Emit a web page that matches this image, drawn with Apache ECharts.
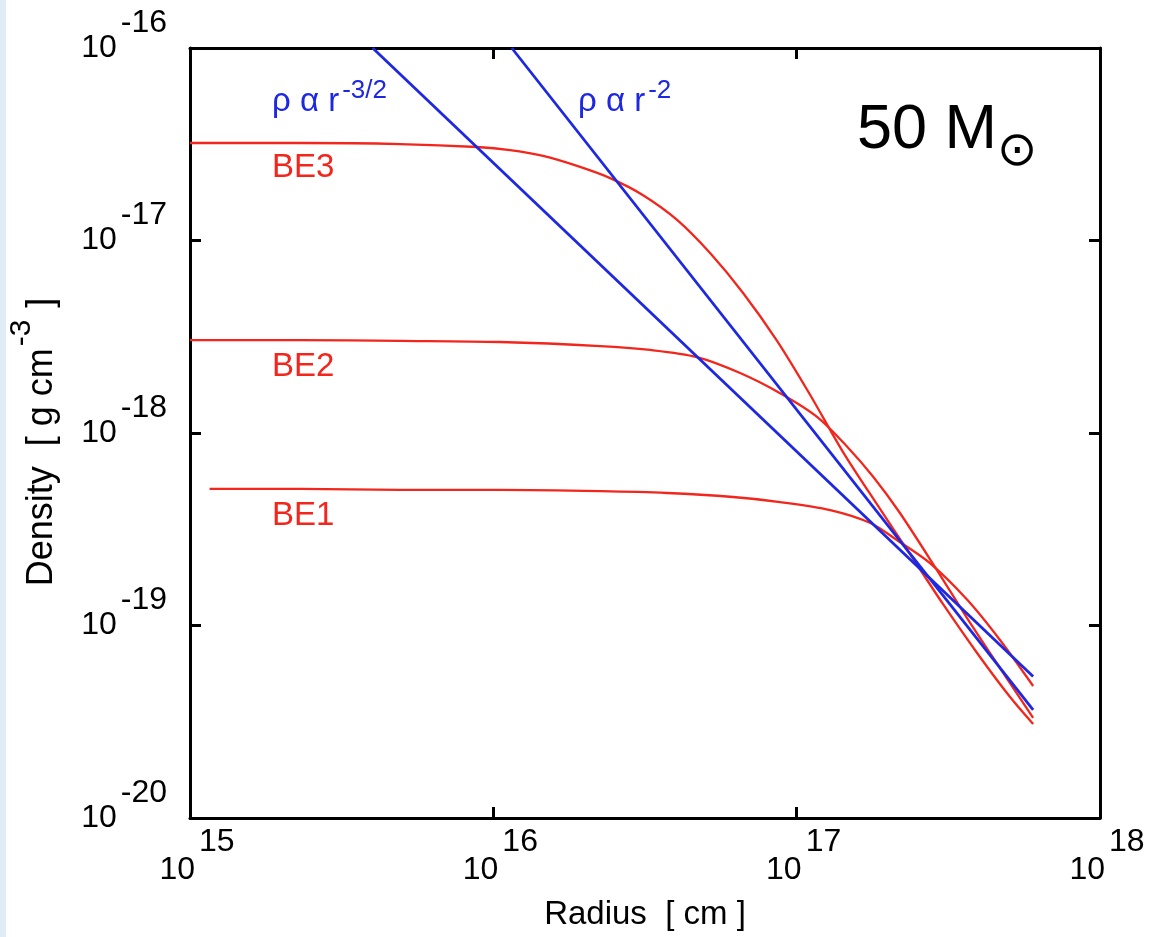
<!DOCTYPE html>
<html>
<head>
<meta charset="utf-8">
<script src="https://cdn.jsdelivr.net/npm/echarts@6/dist/echarts.min.js"></script>
<style>
  html, body { margin: 0; padding: 0; background: #ffffff; }
  #chart { width: 1150px; height: 937px; }
</style>
</head>
<body>
<div id="chart"></div>
<script>
// ---- data (radius [cm], density [g cm^-3]) ----
const be1 = [
  [1.16e15, 5.12e-19], [2.31e15, 5.12e-19], [4.93e15, 5.06e-19], [1.05e16, 5.06e-19],
  [2.25e16, 4.99e-19], [3.74e16, 4.88e-19], [6.17e16, 4.65e-19], [8.82e16, 4.38e-19],
  [1.29e17, 3.98e-19], [1.75e17, 3.41e-19], [2.14e17, 2.78e-19], [2.75e17, 2.11e-19],
  [3.65e17, 1.36e-19], [4.68e17, 8.41e-20], [6.02e17, 4.85e-20]
];
const be2 = [
  [1.00e15, 3.04e-18], [2.31e15, 3.04e-18], [4.93e15, 3.01e-18], [1.05e16, 2.97e-18],
  [2.25e16, 2.83e-18], [3.29e16, 2.70e-18], [4.69e16, 2.48e-18], [6.51e16, 2.05e-18],
  [8.82e16, 1.61e-18], [1.17e17, 1.21e-18], [1.47e17, 8.46e-19], [1.79e17, 5.91e-19],
  [2.19e17, 3.84e-19], [2.90e17, 1.94e-19], [3.65e17, 1.09e-19], [4.68e17, 6.01e-20],
  [6.02e17, 3.31e-20]
];
const be3 = [
  [1.00e15, 3.21e-17], [2.31e15, 3.21e-17], [4.93e15, 3.17e-17], [8.84e15, 3.06e-17],
  [1.135e16, 2.95e-17], [1.459e16, 2.75e-17], [1.888e16, 2.44e-17], [2.426e16, 2.11e-17],
  [3.116e16, 1.72e-17], [4.034e16, 1.28e-17], [5.182e16, 8.61e-18], [6.658e16, 5.34e-18],
  [8.618e16, 3.01e-18], [1.107e17, 1.58e-18], [1.422e17, 7.96e-19], [1.827e17, 4.33e-19],
  [2.365e17, 2.35e-19], [3.039e17, 1.29e-19], [3.933e17, 7.20e-20], [5.053e17, 4.25e-20],
  [6.02e17, 3.08e-20]
];
const powerLaw15 = [[4.0e15, 1.0e-16], [6.02e17, 5.44e-20]];   // rho ~ r^-3/2
const powerLaw2  = [[1.15e16, 1.0e-16], [6.02e17, 3.65e-20]];  // rho ~ r^-2

const xRange = [1e15, 1e18];
const yRange = [1e-20, 1e-16];

const curveLabels = ['BE3', 'BE2', 'BE1'];
const lawLabels = [['ρ α r', '-3/2'], ['ρ α r', '-2']];
const massLabel = ['50 M', '⊙'];
const xName = 'Radius  [ cm ]';
const yName = ['Density  [ g cm', '-3', ' ]'];

const RED = '#f2261c';
const BLUE = '#1e28e0';
const FONT = "'Liberation Sans', Arial, Helvetica, sans-serif";

const chart = echarts.init(document.getElementById('chart'), null, { renderer: 'canvas' });

function expOf(v) { return Math.round(Math.log10(v)); }

const axisLineStyle = { color: '#000', width: 3 };
const tickStyle = { show: true, inside: true, length: 11, lineStyle: { color: '#000', width: 3 } };

const option = {
  animation: false,
  backgroundColor: '#ffffff',
  grid: { left: 190, top: 48, right: 50, bottom: 119, containLabel: false, outerBoundsMode: 'none' },
  xAxis: [
    {
      type: 'log', logBase: 10, min: xRange[0], max: xRange[1], position: 'bottom',
      axisLine: { show: true, onZero: false, lineStyle: axisLineStyle },
      axisTick: tickStyle,
      splitLine: { show: false },
      axisLabel: {
        margin: 8,
        formatter: v => '{b|10}{e|' + expOf(v) + '}',
        rich: {
          b: { fontFamily: FONT, fontSize: 32, color: '#000', verticalAlign: 'bottom', padding: [0, 0, 0, 14] },
          e: { fontFamily: FONT, fontSize: 32, color: '#000', verticalAlign: 'top', padding: [0, 0, 28, 4] }
        }
      },
      name: xName, nameLocation: 'middle', nameGap: 80,
      nameTextStyle: { fontFamily: FONT, fontSize: 33, color: '#000' }
    },
    {
      type: 'log', logBase: 10, min: xRange[0], max: xRange[1], position: 'top',
      axisLine: { show: true, onZero: false, lineStyle: axisLineStyle },
      axisTick: tickStyle, axisLabel: { show: false }, splitLine: { show: false }
    }
  ],
  yAxis: [
    {
      type: 'log', logBase: 10, min: yRange[0], max: yRange[1], position: 'left',
      axisLine: { show: true, onZero: false, lineStyle: axisLineStyle },
      axisTick: tickStyle,
      splitLine: { show: false },
      axisLabel: {
        margin: 23,
        formatter: v => '{b|10}{e|' + expOf(v) + '}',
        rich: {
          b: { fontFamily: FONT, fontSize: 32, color: '#000', verticalAlign: 'middle' },
          e: { fontFamily: FONT, fontSize: 32, color: '#000', verticalAlign: 'top', padding: [0, 0, 50, 4] }
        }
      },
      name: '{n|' + yName[0] + '}{e|' + yName[1] + '}{n|' + yName[2] + '}',
      nameLocation: 'middle', nameGap: 130, nameRotate: 90,
      nameTextStyle: {
        padding: [0, 18, 0, 0],
        rich: {
          n: { fontFamily: FONT, fontSize: 36, color: '#000', verticalAlign: 'bottom' },
          e: { fontFamily: FONT, fontSize: 30, color: '#000', verticalAlign: 'top', padding: [0, 2, 23, 2] }
        }
      }
    },
    {
      type: 'log', logBase: 10, min: yRange[0], max: yRange[1], position: 'right',
      axisLine: { show: true, onZero: false, lineStyle: axisLineStyle },
      axisTick: tickStyle, axisLabel: { show: false }, splitLine: { show: false }
    }
  ],
  series: [
    { name: 'BE1', type: 'line', data: be1, showSymbol: false, smooth: 0.3, clip: true,
      lineStyle: { color: RED, width: 2.3 }, z: 3 },
    { name: 'BE2', type: 'line', data: be2, showSymbol: false, smooth: 0.3, clip: true,
      lineStyle: { color: RED, width: 2.3 }, z: 3 },
    { name: 'BE3', type: 'line', data: be3, showSymbol: false, smooth: 0.3, clip: true,
      lineStyle: { color: RED, width: 2.3 }, z: 3 },
    { name: 'r^-3/2', type: 'line', data: powerLaw15, showSymbol: false, clip: true,
      lineStyle: { color: BLUE, width: 2.8 }, z: 4 },
    { name: 'r^-2', type: 'line', data: powerLaw2, showSymbol: false, clip: true,
      lineStyle: { color: BLUE, width: 2.8 }, z: 4 }
  ],
  graphic: [
    { type: 'rect', shape: { x: 0, y: 0, width: 6, height: 937 }, style: { fill: '#deedf5' }, z: -10 },
    { type: 'text', x: 272, y: 168, style: { text: curveLabels[0], font: '33px ' + FONT, fill: RED, verticalAlign: 'middle' } },
    { type: 'text', x: 272, y: 367, style: { text: curveLabels[1], font: '33px ' + FONT, fill: RED, verticalAlign: 'middle' } },
    { type: 'text', x: 272, y: 516, style: { text: curveLabels[2], font: '33px ' + FONT, fill: RED, verticalAlign: 'middle' } },
    { type: 'text', x: 272, y: 78, style: {
        text: '{a|' + lawLabels[0][0] + '}{e|' + lawLabels[0][1] + '}', verticalAlign: 'top',
        rich: {
          a: { fontFamily: FONT, fontSize: 33, fill: BLUE, verticalAlign: 'bottom' },
          e: { fontFamily: FONT, fontSize: 26, fill: BLUE, verticalAlign: 'top', padding: [0, 0, 14, 3] }
        } } },
    { type: 'text', x: 578, y: 78, style: {
        text: '{a|' + lawLabels[1][0] + '}{e|' + lawLabels[1][1] + '}', verticalAlign: 'top',
        rich: {
          a: { fontFamily: FONT, fontSize: 33, fill: BLUE, verticalAlign: 'bottom' },
          e: { fontFamily: FONT, fontSize: 26, fill: BLUE, verticalAlign: 'top', padding: [0, 0, 14, 3] }
        } } },
    { type: 'text', x: 857, y: 131, style: { text: massLabel[0], font: '63px ' + FONT, fill: '#000', verticalAlign: 'middle' } },
    { type: 'text', x: 1017, y: 153, style: { text: massLabel[1], font: "48px 'DejaVu Sans'", fill: '#000', align: 'center', verticalAlign: 'middle' } }
  ]
};

chart.setOption(option);
</script>
</body>
</html>
